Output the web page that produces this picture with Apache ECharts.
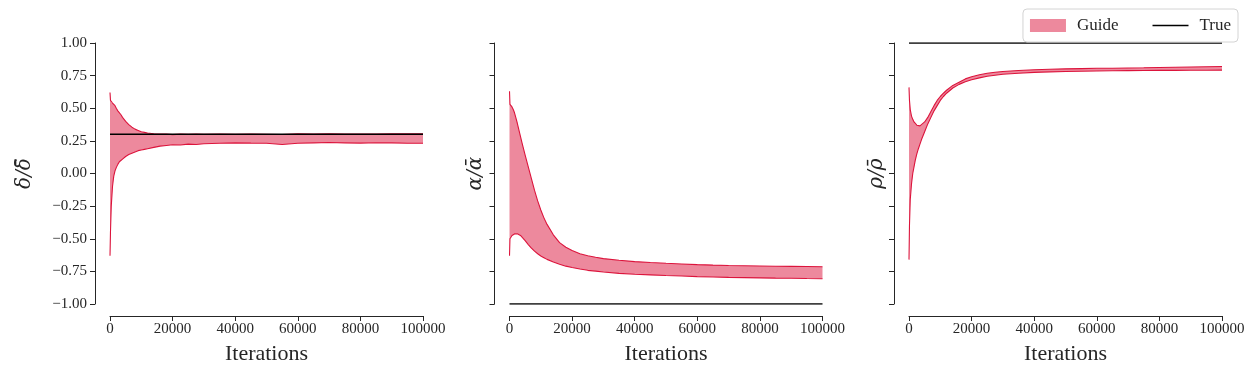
<!DOCTYPE html>
<html>
<head>
<meta charset="utf-8">
<script src="https://cdn.jsdelivr.net/npm/echarts@6/dist/echarts.min.js"></script>
<style>
  html, body { margin: 0; padding: 0; background: #fff; }
  #chart { width: 1260px; height: 378px; }
</style>
</head>
<body>
<div id="chart"></div>
<script>
// sample iterations shared by every panel
const iters = [0, 150, 400, 800, 1200, 1600, 2000, 2500, 3000, 3500, 4000, 5000, 6000, 7000, 8000, 9000, 10000,
    11000, 12000, 14000, 16000, 18000, 20000, 22500, 25000, 27500, 30000, 35000, 40000, 45000, 50000,
    55000, 60000, 65000, 70000, 75000, 80000, 85000, 90000, 95000, 100000]

const deltaUpper = [0.62, 0.56, 0.545, 0.54, 0.53, 0.52, 0.50, 0.48, 0.465, 0.45, 0.43, 0.40, 0.375, 0.355, 0.34, 0.33, 0.32,
    0.315, 0.31, 0.305, 0.302, 0.303, 0.298, 0.302, 0.300, 0.303, 0.301, 0.302, 0.300, 0.303, 0.301,
    0.299, 0.305, 0.302, 0.304, 0.302, 0.303, 0.302, 0.305, 0.304, 0.305]
const deltaLower = [-0.63, -0.45, -0.25, -0.10, -0.02, 0.02, 0.045, 0.07, 0.09, 0.10, 0.11, 0.13, 0.145, 0.155, 0.165, 0.175, 0.18,
    0.185, 0.19, 0.20, 0.21, 0.215, 0.22, 0.218, 0.225, 0.222, 0.228, 0.232, 0.235, 0.233, 0.232,
    0.222, 0.232, 0.235, 0.237, 0.235, 0.233, 0.236, 0.235, 0.232, 0.232]

const alphaUpper = [0.63, 0.53, 0.525, 0.51, 0.49, 0.465, 0.43, 0.385, 0.335, 0.285, 0.235, 0.14, 0.05, -0.04, -0.13, -0.21, -0.28,
    -0.34, -0.39, -0.47, -0.53, -0.565, -0.59, -0.615, -0.63, -0.642, -0.652, -0.665, -0.675, -0.682, -0.688,
    -0.693, -0.698, -0.702, -0.705, -0.707, -0.709, -0.711, -0.712, -0.713, -0.714]
const alphaLower = [-0.63, -0.50, -0.485, -0.475, -0.468, -0.463, -0.46, -0.462, -0.468, -0.475, -0.485, -0.515, -0.545, -0.572, -0.595, -0.615, -0.632,
    -0.645, -0.658, -0.678, -0.695, -0.71, -0.72, -0.732, -0.742, -0.748, -0.755, -0.765, -0.772, -0.777, -0.782,
    -0.786, -0.79, -0.793, -0.796, -0.798, -0.80, -0.802, -0.803, -0.805, -0.806]

const rhoUpper = [0.66, 0.56, 0.49, 0.44, 0.415, 0.395, 0.38, 0.37, 0.365, 0.365, 0.372, 0.395, 0.43, 0.475, 0.52, 0.56, 0.59,
    0.615, 0.638, 0.675, 0.70, 0.725, 0.742, 0.757, 0.768, 0.776, 0.782, 0.789, 0.795, 0.799, 0.802,
    0.804, 0.806, 0.807, 0.809, 0.810, 0.812, 0.814, 0.816, 0.818, 0.82]
const rhoLower = [-0.66, -0.40, -0.20, -0.08, 0.0, 0.05, 0.10, 0.15, 0.19, 0.225, 0.26, 0.32, 0.38, 0.43, 0.48, 0.52, 0.56,
    0.59, 0.615, 0.655, 0.683, 0.703, 0.718, 0.733, 0.745, 0.753, 0.76, 0.768, 0.775, 0.779, 0.782,
    0.784, 0.786, 0.787, 0.788, 0.789, 0.79, 0.79, 0.791, 0.791, 0.792]

const trueValues = [0.3, -1.0, 1.0]
const yNames = ['δ/δ̄', 'α/ᾱ', 'ρ/ρ̄']
const xTicks = [0, 20000, 40000, 60000, 80000, 100000]
const yTicks = [-1, -0.75, -0.5, -0.25, 0, 0.25, 0.5, 0.75, 1]

const panels = [
    {upper: deltaUpper, lower: deltaLower},
    {upper: alphaUpper, lower: alphaLower},
    {upper: rhoUpper, lower: rhoLower}
]

const FONT = '"Liberation Serif", "DejaVu Serif", serif'
const INK = '#262626'
const RED = '#dc143c'
const FILL = 'rgba(220,20,60,0.5)'

const gridLefts = [110, 509.5, 909]
const nameGaps = [60, 9, 7]

const grid = [], xAxis = [], yAxis = [], series = []
panels.forEach((p, i) => {
    grid.push({left: gridLefts[i], top: 43, width: 313, height: 261})
    xAxis.push({
        type: 'value', gridIndex: i,
        min: xTicks[0], max: xTicks[xTicks.length - 1], interval: xTicks[1] - xTicks[0],
        offset: 12,
        name: 'Iterations', nameLocation: 'middle', nameGap: 27,
        nameTextStyle: {fontFamily: FONT, fontSize: 22, color: INK},
        axisLine: {onZero: false, lineStyle: {color: INK, width: 1}},
        axisTick: {length: 5, lineStyle: {color: INK}},
        axisLabel: {fontFamily: FONT, fontSize: 15, color: INK, margin: 6, formatter: v => String(v)},
        splitLine: {show: false}
    })
    yAxis.push({
        type: 'value', gridIndex: i,
        min: yTicks[0], max: yTicks[yTicks.length - 1], interval: yTicks[1] - yTicks[0],
        offset: 15,
        name: yNames[i], nameLocation: 'middle', nameGap: nameGaps[i],
        nameTextStyle: {fontFamily: '"DejaVu Serif", serif', fontSize: 20, color: INK, fontStyle: 'italic'},
        axisLine: {show: true, onZero: false, lineStyle: {color: INK, width: 1}},
        axisTick: {show: true, length: 5, lineStyle: {color: INK}},
        axisLabel: {show: i === 0, fontFamily: FONT, fontSize: 15, color: INK, margin: 8,
            formatter: v => v.toFixed(2).replace('-', '\u2212')},
        splitLine: {show: false}
    })
    const band = iters.map((x, k) => [x, p.lower[k], p.upper[k]])
    // shaded band: one polygon, upper edge forward then lower edge back
    series.push({
        name: 'Guide', type: 'custom', xAxisIndex: i, yAxisIndex: i,
        data: band, encode: {x: 0, y: [1, 2]},
        itemStyle: {color: FILL},
        renderItem(params, api) {
            if (params.dataIndex !== 0) return null
            const pts = band.map(d => api.coord([d[0], d[2]]))
            for (let k = band.length - 1; k >= 0; k--) pts.push(api.coord([band[k][0], band[k][1]]))
            return {type: 'polygon', shape: {points: pts}, style: {fill: FILL}}
        },
        z: 1
    })
    series.push({
        name: 'Guide upper', type: 'line', xAxisIndex: i, yAxisIndex: i,
        data: iters.map((x, k) => [x, p.upper[k]]), showSymbol: false, symbol: 'none',
        lineStyle: {color: RED, width: 1.1}, z: 2
    })
    series.push({
        name: 'Guide lower', type: 'line', xAxisIndex: i, yAxisIndex: i,
        data: iters.map((x, k) => [x, p.lower[k]]), showSymbol: false, symbol: 'none',
        lineStyle: {color: RED, width: 1.1}, z: 2
    })
    series.push({
        name: 'True', type: 'line', xAxisIndex: i, yAxisIndex: i,
        data: [[xTicks[0], trueValues[i]], [xTicks[xTicks.length - 1], trueValues[i]]],
        showSymbol: false, symbol: 'none',
        itemStyle: {color: '#000'},
        lineStyle: {color: '#000', width: 1.5}, z: 3
    })
})

const chart = echarts.init(document.getElementById('chart'), null, {renderer: 'canvas'})
chart.setOption({
    animation: false,
    backgroundColor: '#fff',
    legend: {
        right: 22, top: 9,
        padding: [8, 7, 8, 7],
        borderColor: '#d4d4d4', borderWidth: 1, borderRadius: 4,
        itemWidth: 36, itemHeight: 13, itemGap: 34,
        symbolKeepAspect: true,
        textStyle: {fontFamily: FONT, fontSize: 17, color: INK, padding: [0, 0, 0, 6]},
        data: [
            {name: 'Guide', icon: 'rect', itemStyle: {color: FILL, borderWidth: 0}},
            {name: 'True', icon: 'path://M0,0H36V1.5H0Z', itemStyle: {color: '#000', borderWidth: 0}}
        ]
    },
    grid: grid,
    xAxis: xAxis,
    yAxis: yAxis,
    series: series
})
</script>
</body>
</html>
